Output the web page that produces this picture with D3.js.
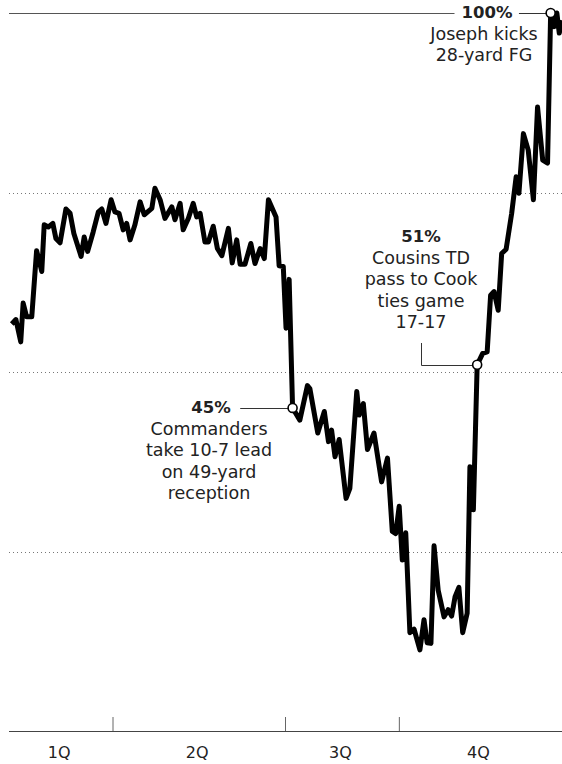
<!DOCTYPE html>
<html><head><meta charset="utf-8">
<script src="https://cdn.jsdelivr.net/npm/d3@7"></script>
<style>
body{margin:0;background:#fff}
svg{display:block}
text{font-family:"DejaVu Sans",sans-serif;fill:#222}
</style>
</head><body>
<svg id="c" width="562" height="764"></svg>
<script>
// play index (x) and win probability in % (y)
const plays = [0.8,2.0,3.4,4.1,5.1,6.6,8.0,9.5,10.2,11.4,12.7,13.6,14.8,16.5,17.7,18.8,20.9,21.8,22.8,24.4,25.9,26.9,28.1,29.6,30.7,31.9,33.1,34.1,35.1,36.5,38.0,39.2,41.4,42.3,43.8,45.2,47.2,48.1,49.6,50.5,52.0,53.4,54.4,55.4,56.8,57.8,59.2,60.4,61.7,63.6,64.7,66.0,67.0,68.4,70.1,71.3,72.8,74.0,75.2,77.4,78.3,79.5,80.3,81.2,82.2,84.3,86.5,87.2,89.5,91.4,92.6,93.5,94.5,95.7,97.7,98.8,100.8,101.5,102.7,103.9,105.8,108.0,109.7,111.1,112.1,113.1,114.0,115.0,116.2,117.4,119.1,120.3,121.2,122.3,123.2,124.4,126.1,127.3,128.3,129.3,130.4,131.5,132.8,133.6,134.6,135.7,137.3,138.6,139.6,140.6,141.8,142.8,144.1,145.7,147.0,147.8,149.1,150.5,152.0,153.2,154.7,156.1,157.0,158.0,158.8,159.5,160.2];
const winProb = [56.7,57.3,54.2,59.6,57.7,57.7,66.9,64.0,70.5,70.2,70.7,68.6,68.0,72.7,72.1,69.3,66.1,68.8,66.8,69.5,72.3,72.7,70.7,74.0,72.3,72.1,69.8,70.7,68.4,70.5,73.7,71.9,72.8,75.6,74.0,71.4,73.0,71.2,73.5,69.8,71.4,73.5,71.6,72.1,68.1,68.1,70.3,67.2,66.2,70.0,65.2,68.4,65.0,65.0,67.9,65.1,67.2,65.8,74.0,71.6,64.8,64.7,56.1,62.9,45.0,43.3,48.1,47.7,41.5,44.5,40.3,41.9,38.2,40.6,32.4,33.8,47.3,44.0,45.6,39.2,41.5,34.7,38.0,27.8,27.5,31.3,23.8,27.6,13.7,14.2,11.3,15.5,12.3,12.2,25.8,19.6,15.9,16.9,16.0,18.7,20.0,13.7,16.4,36.8,30.8,51.0,52.6,52.8,60.7,61.2,58.6,66.5,67.1,72.1,77.2,74.9,83.2,80.9,74.0,86.9,79.5,79.1,100,98.1,100,97.2,99.0];

const quarterBreaks = [30, 80, 113];          // play index where a new quarter starts
const quarterEdges = [0, 30, 80, 113, 160];
const quarterLabels = ["1Q", "2Q", "3Q", "4Q"];
const gridValues = [25, 50, 75];

const annoPlays = [82.2, 135.7, 157.0];
const annoValues = [45, 51, 100];
const annoLabels = ["45%", "51%", "100%"];
const annoTexts = [
  ["Commanders", "take 10-7 lead", "on 49-yard", "reception"],
  ["Cousins TD", "pass to Cook", "ties game", "17-17"],
  ["Joseph kicks", "28-yard FG"]
];

const svg = d3.select("#c");
const x = d3.scaleLinear().domain([0, 160]).range([9, 561]);
const y = d3.scaleLinear().domain([0, 100]).range([731, 13]);

// dotted gridlines
svg.append("g").selectAll("line").data(gridValues).join("line")
  .attr("x1", 9).attr("x2", 562)
  .attr("y1", d => Math.round(y(d)) + 0.5).attr("y2", d => Math.round(y(d)) + 0.5)
  .attr("stroke", "#777").attr("stroke-width", 1).attr("stroke-dasharray", "1,3");

// axis with quarter ticks
const axisG = svg.append("g").attr("transform", `translate(0,${y(0)})`)
  .call(d3.axisBottom(x).tickValues(quarterBreaks).tickSizeInner(-14).tickSizeOuter(0).tickFormat(""));
axisG.select(".domain").attr("stroke", "#444").attr("d", `M9,0.5H562`);
axisG.selectAll(".tick line").attr("stroke", "#666");

// quarter labels
const mids = quarterLabels.map((q, i) => (quarterEdges[i] + quarterEdges[i + 1]) / 2);
const labG = svg.append("g").attr("transform", `translate(0,${y(0)})`)
  .call(d3.axisBottom(x).tickValues(mids).tickSize(0).tickFormat((d, i) => quarterLabels[i]));
labG.select(".domain").remove();
labG.selectAll(".tick text").attr("y", 27).attr("dy", 0).attr("dx", -2)
  .style("font-family", '"DejaVu Sans",sans-serif').style("font-size", "16px").attr("fill", "#222");

// main line
const pts = plays.map((p, i) => [p, winProb[i]]);
const line = d3.line().x(d => x(d[0])).y(d => y(d[1]));
svg.append("path").datum(pts).attr("d", line)
  .attr("fill", "none").attr("stroke", "#000").attr("stroke-width", 5)
  .attr("stroke-linejoin", "round").attr("stroke-linecap", "butt");

// annotations
const layout = [
  {tx: 211, ty: 413, lx: 209},
  {tx: 421, ty: 242, lx: 421},
  {tx: 487, ty: 18, lx: 484}
];
const lh = 21.5;
const r = 4.5;
const annG = svg.append("g");
const boxes = [];
annoLabels.forEach((lab, i) => {
  const L = layout[i];
  const t = annG.append("text").attr("x", L.tx).attr("y", L.ty).attr("text-anchor", "middle")
    .style("font-size", "16.5px").style("font-weight", 700).text(lab);
  boxes.push(t.node().getBBox());
  annoTexts[i].forEach((s, j) => {
    annG.append("text").attr("x", L.lx).attr("y", L.ty + lh * (j + 1)).attr("text-anchor", "middle")
      .style("font-size", "17.5px").text(s);
  });
});
const cx = annoPlays.map(p => x(p));
const cy = annoValues.map(v => y(v));
const conn = annG.append("g").attr("fill", "none").attr("stroke", "#333").attr("stroke-width", 1);
// 45% : horizontal leader
conn.append("path").attr("d", `M${boxes[0].x + boxes[0].width + 9},${Math.round(cy[0]) + 0.5}H${cx[0] - r}`);
// 51% : elbow leader
conn.append("path").attr("d", `M${layout[1].tx + 0.5},343V${Math.round(cy[1]) + 0.5}H${cx[1] - r}`);
// 100% : top rule split by label
conn.append("path").attr("stroke", "#555").attr("d", `M9,${Math.round(cy[2]) + 0.5}H${boxes[2].x - 7}`);
conn.append("path").attr("d", `M${boxes[2].x + boxes[2].width + 6},${Math.round(cy[2]) + 0.5}H${cx[2] - r}`);

annG.selectAll("circle").data(annoPlays).join("circle")
  .attr("cx", (d, i) => cx[i]).attr("cy", (d, i) => cy[i]).attr("r", r)
  .attr("fill", "#fff").attr("stroke", "#000").attr("stroke-width", 1.6);
</script>
</body></html>
